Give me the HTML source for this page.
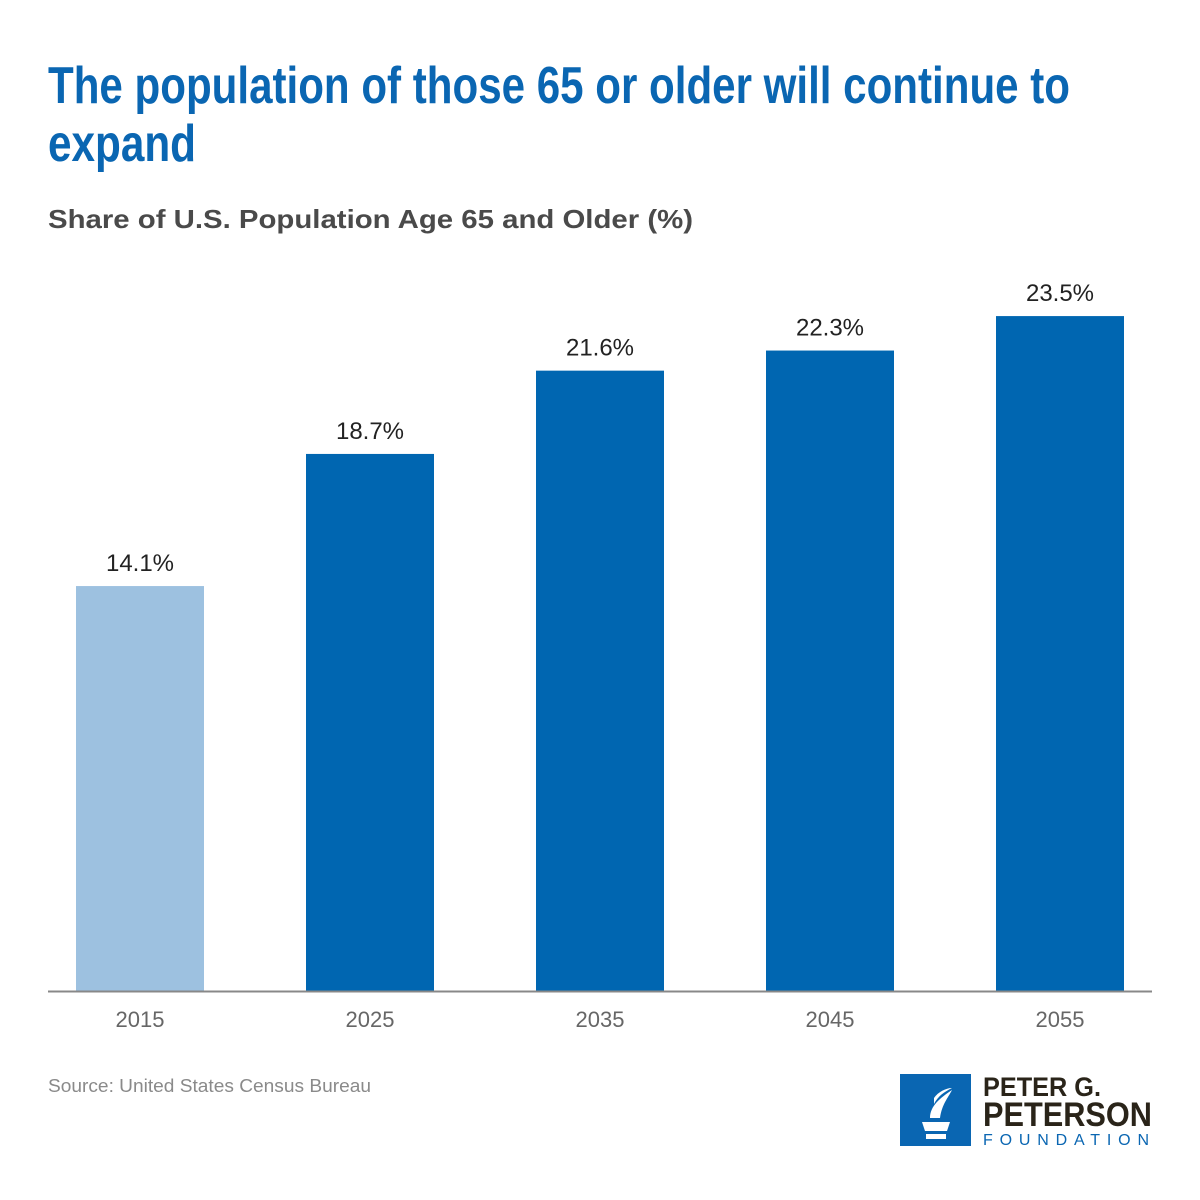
<!DOCTYPE html>
<html><head><meta charset="utf-8"><style>
html,body{margin:0;padding:0;background:#fff;}
svg{display:block;font-family:"Liberation Sans",sans-serif;}
</style></head><body>
<svg id="chart" width="1200" height="1200" viewBox="0 0 1200 1200">
<text x="48" y="103" font-family="Liberation Sans Narrow, Liberation Sans, sans-serif" font-weight="bold" font-size="52" fill="#0a66b2" textLength="1022" lengthAdjust="spacingAndGlyphs">The population of those 65 or older will continue to</text>
<text x="48" y="161" font-family="Liberation Sans Narrow, Liberation Sans, sans-serif" font-weight="bold" font-size="52" fill="#0a66b2" textLength="148" lengthAdjust="spacingAndGlyphs">expand</text>
<text x="48" y="228" font-weight="bold" font-size="26" fill="#4a4a4a" textLength="645" lengthAdjust="spacingAndGlyphs">Share of U.S. Population Age 65 and Older (%)</text>
<g id="bars"></g>
<line x1="48" x2="1152" y1="991.5" y2="991.5" stroke="#888" stroke-width="2"/>
<text x="48" y="1092" font-size="18" fill="#8a8a8a" textLength="323" lengthAdjust="spacingAndGlyphs">Source: United States Census Bureau</text>
<g>
<rect x="900" y="1074" width="71" height="72" fill="#0a66b2"/>
<path d="M922 1122 h28 l-3 9 h-22 z M926 1134 h20 v5 h-20 z M930 1118 c0 -12 10 -20 22 -28 c-4 8 -10 14 -12 28 z M934 1104 c4 -8 10 -12 18 -16 c-6 0 -14 4 -18 10z" fill="#fff"/>
<text x="983" y="1096" font-family="Liberation Sans Narrow, Liberation Sans, sans-serif" font-weight="bold" font-size="27" fill="#2a2419" textLength="118" lengthAdjust="spacingAndGlyphs">PETER G.</text>
<text x="983" y="1126" font-family="Liberation Sans Narrow, Liberation Sans, sans-serif" font-weight="bold" font-size="34" fill="#2a2419" textLength="169" lengthAdjust="spacingAndGlyphs">PETERSON</text>
<text x="983" y="1145" font-size="16" fill="#0a66b2" textLength="166" lengthAdjust="spacing">FOUNDATION</text>
</g>
</svg>
<script>
const categories = ["2015","2025","2035","2045","2055"];
const values = [14.1, 18.7, 21.6, 22.3, 23.5];
const valueLabels = ["14.1%","18.7%","21.6%","22.3%","23.5%"];
const baseY = 991, pxPerUnit = 28.72, firstCenter = 140, step = 230, barW = 128;
const xPos = i => firstCenter + i * step;
const yPos = v => baseY - v * pxPerUnit;
const NS = "http://www.w3.org/2000/svg";
const g = document.getElementById("bars");
categories.forEach((c, i) => {
  const r = document.createElementNS(NS, "rect");
  r.setAttribute("x", xPos(i) - barW / 2);
  r.setAttribute("y", yPos(values[i]));
  r.setAttribute("width", barW);
  r.setAttribute("height", baseY - yPos(values[i]));
  r.setAttribute("fill", i === 0 ? "#9dc1e0" : "#0066b1");
  
  
  g.appendChild(r);
  const t = document.createElementNS(NS, "text");
  t.setAttribute("x", xPos(i));
  t.setAttribute("y", yPos(values[i]) - 15);
  t.setAttribute("text-anchor", "middle");
  t.setAttribute("font-size", "24");
  t.setAttribute("fill", "#222");
  t.textContent = valueLabels[i];
  
  
  g.appendChild(t);
  const yl = document.createElementNS(NS, "text");
  yl.setAttribute("x", xPos(i));
  yl.setAttribute("y", 1027);
  yl.setAttribute("text-anchor", "middle");
  yl.setAttribute("font-size", "22");
  yl.setAttribute("fill", "#666");
  yl.textContent = c;
  
  
  g.appendChild(yl);
});
</script>
</body></html>
